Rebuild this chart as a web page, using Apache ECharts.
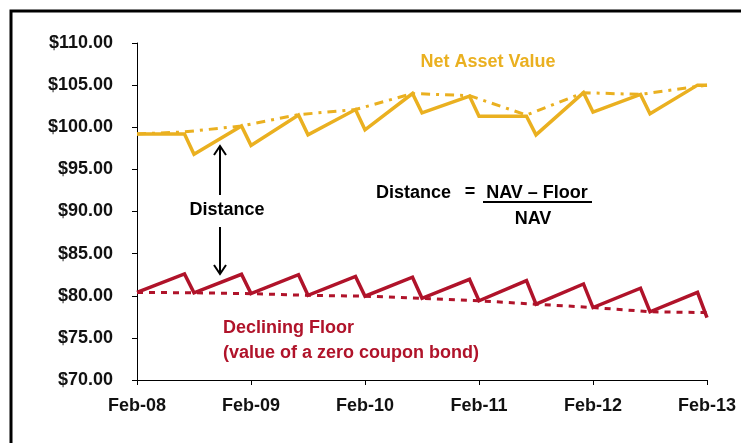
<!DOCTYPE html>
<html>
<head>
<meta charset="utf-8">
<script src="https://cdn.jsdelivr.net/npm/echarts@6/dist/echarts.min.js"></script>
<style>html,body{margin:0;padding:0;background:#fff}#c{width:741px;height:443px}</style>
</head>
<body>
<div id="c"></div>
<script>
// months since Feb-08
const xTickLabels = ['Feb-08', 'Feb-09', 'Feb-10', 'Feb-11', 'Feb-12', 'Feb-13'];
const navMonths   = [0, 5, 6, 11, 12, 17, 18, 23, 24, 29, 30, 35, 36, 41, 42, 47, 48, 53, 54, 59, 60];
const navValues   = [99.2, 99.2, 96.8, 100.15, 97.85, 101.45, 99.1, 102.1, 99.7, 104.0, 101.7, 103.7, 101.3, 101.3, 99.1, 104.1, 101.8, 103.9, 101.6, 105.0, 105.0];
const navTrendMonths = [0, 5, 11, 17, 23, 29, 35, 41, 47, 53, 60];
const navTrendValues = [99.2, 99.45, 100.15, 101.5, 102.1, 104.0, 103.75, 101.45, 104.1, 103.9, 105.0];
const floorMonths = [0, 5, 6, 11, 12, 17, 18, 23, 24, 29, 30, 35, 36, 41, 42, 47, 48, 53, 54, 59, 60];
const floorValues = [80.4, 82.6, 80.35, 82.55, 80.25, 82.5, 80.05, 82.3, 79.95, 82.2, 79.7, 81.95, 79.4, 81.8, 79.0, 81.4, 78.6, 80.9, 78.1, 80.4, 77.4];
const floorTrendMonths = [0, 6, 12, 18, 24, 30, 36, 42, 48, 54, 60];
const floorTrendValues = [80.4, 80.35, 80.25, 80.05, 79.95, 79.7, 79.4, 79.0, 78.6, 78.1, 78.0];

const GOLD = '#EAB020';
const RED = '#B0132A';
const FONT = '"Liberation Sans", Arial, sans-serif';

function pairs(xs, ys) { return xs.map((x, i) => [x, ys[i]]); }

const chart = echarts.init(document.getElementById('c'), null, {renderer: 'canvas'});

function txt(x, y, s, color, align) {
  return { type: 'text', x: x, y: y, style: { text: s, fill: color, font: 'bold 18px ' + FONT, textAlign: align || 'left', textVerticalAlign: 'middle' } };
}
function seg(x1, y1, x2, y2, w) {
  return { type: 'line', shape: { x1: x1, y1: y1, x2: x2, y2: y2 }, style: { stroke: '#000', lineWidth: w || 2 } };
}
function head(x, y, dir) {
  return { type: 'polyline', shape: { points: [[x - 6, y - 9 * dir], [x, y], [x + 6, y - 9 * dir]] }, style: { stroke: '#000', lineWidth: 2, fill: null } };
}

const option = {
  animation: false,
  backgroundColor: '#fff',
  grid: { left: 137, right: 34, top: 43, bottom: 63, containLabel: false, outerBoundsMode: 'none' },
  xAxis: {
    type: 'value', min: 0, max: 60, interval: 12,
    axisLine: { show: true, lineStyle: { color: '#000', width: 1 } },
    axisTick: { show: true, length: 5, lineStyle: { color: '#000' } },
    splitLine: { show: false },
    axisLabel: { margin: 17, color: '#111', fontSize: 18, fontWeight: 'bold', fontFamily: FONT,
      formatter: v => xTickLabels[Math.round(v / 12)] }
  },
  yAxis: {
    type: 'value', min: 70, max: 110, interval: 5,
    axisLine: { show: true, lineStyle: { color: '#000', width: 1 } },
    axisTick: { show: true, length: 5, lineStyle: { color: '#000' } },
    splitLine: { show: false },
    axisLabel: { margin: 24, color: '#111', fontSize: 18, fontWeight: 'bold', fontFamily: FONT,
      formatter: v => '$' + v.toFixed(2) }
  },
  series: [
    { type: 'line', name: 'NAV trend', data: pairs(navTrendMonths, navTrendValues), symbol: 'none', z: 2,
      lineStyle: { color: GOLD, width: 3, type: [9, 6, 3, 6], cap: 'butt' } },
    { type: 'line', name: 'Net Asset Value', data: pairs(navMonths, navValues), symbol: 'none', z: 3,
      lineStyle: { color: GOLD, width: 3.5, join: 'miter' } },
    { type: 'line', name: 'Floor trend', data: pairs(floorTrendMonths, floorTrendValues), symbol: 'none', z: 2,
      lineStyle: { color: RED, width: 3, type: [6, 6], cap: 'butt' } },
    { type: 'line', name: 'Declining Floor', data: pairs(floorMonths, floorValues), symbol: 'none', z: 3,
      lineStyle: { color: RED, width: 3.5, join: 'miter' } }
  ],
  graphic: [
    { type: 'rect', shape: { x: 11, y: 11, width: 800, height: 500 }, style: { stroke: '#000', lineWidth: 3, fill: null }, z: 100 },
    txt(488, 62, 'Net Asset Value', GOLD, 'center'),
    txt(223, 328, 'Declining Floor', RED),
    txt(223, 353, '(value of a zero coupon bond)', RED),
    txt(227, 210, 'Distance', '#000', 'center'),
    seg(220, 146, 220, 195), head(220, 146, -1),
    seg(220, 227, 220, 274), head(220, 274, 1),
    txt(376, 193, 'Distance', '#000'),
    txt(470, 192, '=', '#000', 'center'),
    txt(537, 193, 'NAV \u2013 Floor', '#000', 'center'),
    seg(483, 202, 592, 202, 2),
    txt(533, 219, 'NAV', '#000', 'center')
  ]
};
chart.setOption(option);
</script>
</body>
</html>
